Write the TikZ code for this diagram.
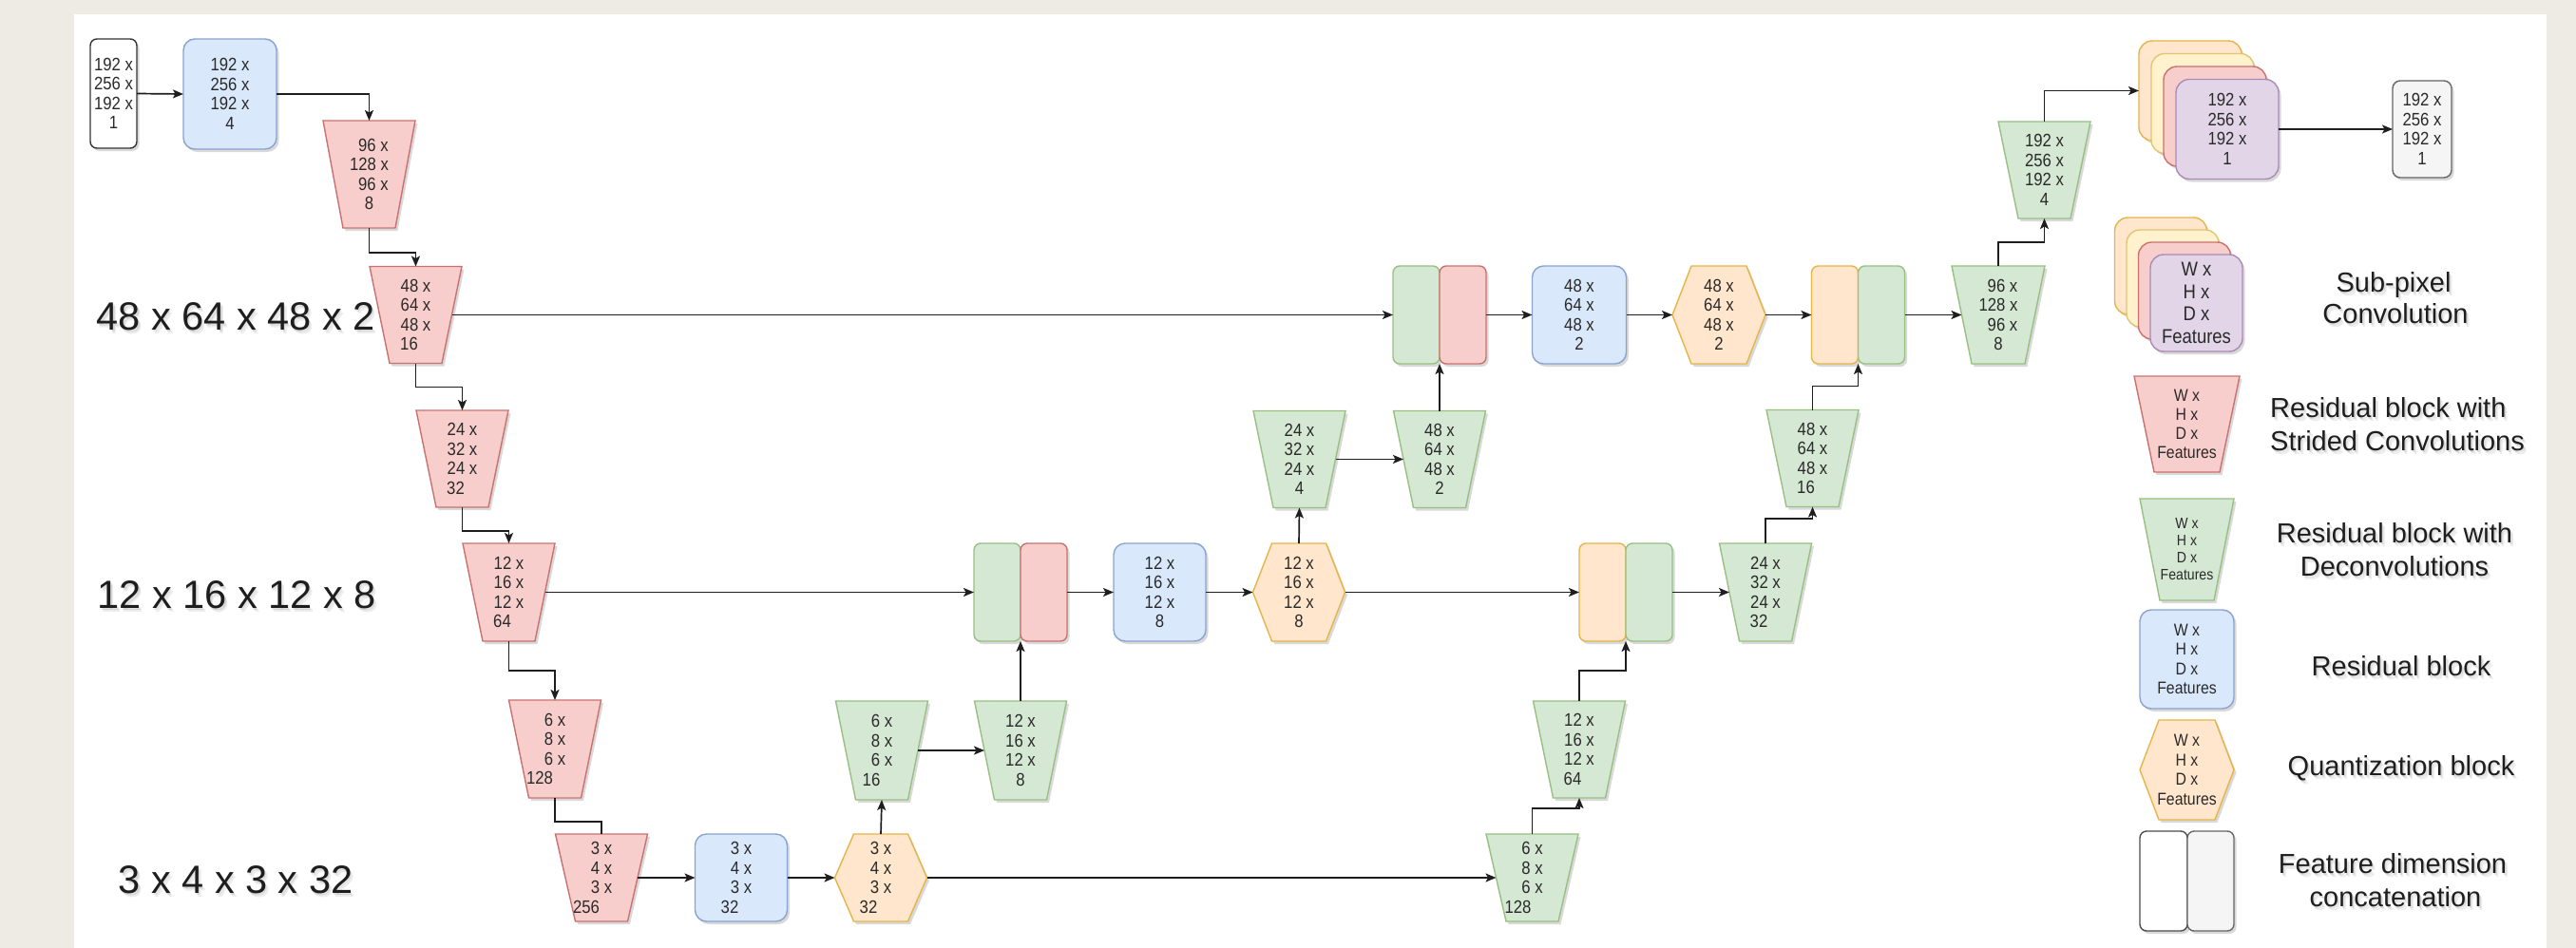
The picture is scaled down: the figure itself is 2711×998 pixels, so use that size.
\documentclass[tikz,border=0pt]{standalone}
\usepackage{fontspec}
\setmainfont{Liberation Sans}
\newfontfamily\blockfont[FakeStretch=0.88]{Liberation Sans}
\usetikzlibrary{arrows.meta,shadows,calc}

% ---------- colours ----------
\definecolor{pagebg}{HTML}{EEEBE4}
\definecolor{redF}{HTML}{F8CECC}\definecolor{redD}{HTML}{B85450}
\definecolor{grnF}{HTML}{D5E8D4}\definecolor{grnD}{HTML}{82B366}
\definecolor{bluF}{HTML}{DAE8FC}\definecolor{bluD}{HTML}{6C8EBF}
\definecolor{orgF}{HTML}{FFE6CC}\definecolor{orgD}{HTML}{D79B00}
\definecolor{ylwF}{HTML}{FFF2CC}\definecolor{ylwD}{HTML}{D6B656}
\definecolor{purF}{HTML}{E1D5E7}\definecolor{purD}{HTML}{9673A6}
\definecolor{gryF}{HTML}{F5F5F5}\definecolor{gryD}{HTML}{666666}
\definecolor{ink}{HTML}{1E1E1E}
\definecolor{txt}{HTML}{2A2A2A}
\colorlet{redS}{redD!75!redF}
\colorlet{grnS}{grnD!75!grnF}
\colorlet{bluS}{bluD!75!bluF}
\colorlet{orgS}{orgD!65!orgF}
\colorlet{ylwS}{ylwD!75!ylwF}
\colorlet{purS}{purD!75!purF}

% ---------- block shapes ----------
\newdimen\shpL \newdimen\shpR \newdimen\shpT \newdimen\shpB
\newdimen\shpM \newdimen\shpLi \newdimen\shpRi
\makeatletter
% hexagon with flat top and bottom, pointed left and right
\pgfdeclareshape{hexblock}{%
  \inheritsavedanchors[from=rectangle]%
  \inheritanchorborder[from=rectangle]%
  \inheritanchor[from=rectangle]{center}%
  \inheritanchor[from=rectangle]{north}%
  \inheritanchor[from=rectangle]{south}%
  \inheritanchor[from=rectangle]{east}%
  \inheritanchor[from=rectangle]{west}%
  \backgroundpath{%
    \southwest \shpL=\pgf@x \shpB=\pgf@y
    \northeast \shpR=\pgf@x \shpT=\pgf@y
    \shpM=.5\shpB \advance\shpM by .5\shpT
    \shpLi=\shpL \advance\shpLi by 20pt
    \shpRi=\shpR \advance\shpRi by -20pt
    \pgfpathmoveto{\pgfqpoint{\shpL}{\shpM}}%
    \pgfpathlineto{\pgfqpoint{\shpLi}{\shpT}}%
    \pgfpathlineto{\pgfqpoint{\shpRi}{\shpT}}%
    \pgfpathlineto{\pgfqpoint{\shpR}{\shpM}}%
    \pgfpathlineto{\pgfqpoint{\shpRi}{\shpB}}%
    \pgfpathlineto{\pgfqpoint{\shpLi}{\shpB}}%
    \pgfpathclose
  }%
}
% trapezoid, wide at the top; east/west sit on the slanted sides
\pgfdeclareshape{trapblock}{%
  \inheritsavedanchors[from=rectangle]%
  \inheritanchorborder[from=rectangle]%
  \inheritanchor[from=rectangle]{center}%
  \inheritanchor[from=rectangle]{north}%
  \inheritanchor[from=rectangle]{south}%
  \anchor{east}{\southwest \pgf@ya=\pgf@y \northeast
    \advance\pgf@x by -10.5pt \pgf@y=.5\pgf@y \advance\pgf@y by .5\pgf@ya}%
  \anchor{west}{\northeast \pgf@ya=\pgf@y \southwest
    \advance\pgf@x by 10.5pt \pgf@y=.5\pgf@y \advance\pgf@y by .5\pgf@ya}%
  \backgroundpath{%
    \southwest \shpL=\pgf@x \shpB=\pgf@y
    \northeast \shpR=\pgf@x \shpT=\pgf@y
    \shpLi=\shpL \advance\shpLi by 21pt
    \shpRi=\shpR \advance\shpRi by -21pt
    \pgfpathmoveto{\pgfqpoint{\shpL}{\shpT}}%
    \pgfpathlineto{\pgfqpoint{\shpR}{\shpT}}%
    \pgfpathlineto{\pgfqpoint{\shpRi}{\shpB}}%
    \pgfpathlineto{\pgfqpoint{\shpLi}{\shpB}}%
    \pgfpathclose
  }%
}
\makeatother

% ---------- styles ----------
\tikzset{
  blk/.style={line width=1.4pt, inner sep=0pt, outer sep=0pt, text=txt, align=center,
    font=\blockfont\fontsize{19}{20.5}\selectfont,
    drop shadow={shadow xshift=2.5pt, shadow yshift=-3pt, opacity=.15, fill=black}},
  rtrap/.style={blk, shape=trapblock, fill=redF, draw=redS, minimum width=97pt, minimum height=102pt},
  gtrap/.style={blk, shape=trapblock, fill=grnF, draw=grnS, minimum width=97pt, minimum height=102pt},
  resbox/.style={blk, rectangle, rounded corners=12pt, fill=bluF, draw=bluS, minimum width=97pt, minimum height=103pt},
  quant/.style={blk, shape=hexblock, fill=orgF, draw=orgS, minimum width=97pt, minimum height=103pt},
  half/.style={blk, rectangle, rounded corners=7pt, minimum width=49pt, minimum height=103pt},
  hg/.style={half, fill=grnF, draw=grnS},
  hr/.style={half, fill=redF, draw=redS},
  ho/.style={half, fill=orgF, draw=orgS},
  layer/.style={blk, rectangle, rounded corners=14pt, minimum width=108pt, minimum height=105pt},
  conn/.style={draw=ink, line width=1.7pt, -{Stealth[length=11pt,width=9pt,inset=2.5pt]}},
  plainline/.style={draw=ink, line width=1.7pt},
  legtxt/.style={inner sep=0pt, text=ink, font=\fontsize{29}{33}\selectfont},
  sidetxt/.style={inner sep=0pt, text=ink, font=\fontsize{41.5}{46}\selectfont},
}
% text with a soft shadow below it
\newcommand\shtext[5]{%
  \node[#1, text=black, text opacity=.10, anchor=#3] (#2-a) at ($(#4)+(1.5,2.5)$) {#5};
  \node[#1, text=black, text opacity=.07, anchor=#3] (#2-b) at ($(#4)+(3,4.5)$) {#5};
  \node[#1, anchor=#3] (#2) at (#4) {#5};}

\begin{document}
\begin{tikzpicture}[x=1pt,y=-1pt]
\useasboundingbox (0,0) rectangle (2711,998);
\fill[pagebg] (0,0) rectangle (2711,998);
\fill[white] (78,15) rectangle (2680,998);

% ---------- side labels ----------
\shtext{sidetxt}{lv1}{base}{248,347}{48 x 64 x 48 x 2}
\shtext{sidetxt}{lv2}{base}{249,640}{12 x 16 x 12 x 8}
\shtext{sidetxt}{lv3}{base}{248,940}{3 x 4 x 3 x 32}

% ---------- encoder ----------
\node[blk, rectangle, rounded corners=7pt, fill=white, draw=black!80, minimum width=49pt, minimum height=115pt]
  (in) at (119.5,98.5) {192 x\\256 x\\192 x\\1};
\node[resbox, minimum width=98pt, minimum height=116pt] (b1) at (242,99) {192 x\\256 x\\192 x\\4};
\node[rtrap, minimum height=113pt] (r1) at (388.5,183.5) {\hspace*{9pt}96 x\\128 x\\\hspace*{9pt}96 x\\8};
\node[rtrap] (r2) at (437.5,331.5) {48 x\\64 x\\48 x\\\hspace*{-14pt}16};
\node[rtrap] (r3) at (486.5,483) {24 x\\32 x\\24 x\\\hspace*{-14pt}32};
\node[rtrap, minimum height=103pt] (r4) at (535.5,623.5) {12 x\\16 x\\12 x\\\hspace*{-14pt}64};
\node[rtrap, minimum height=103pt] (r5) at (584,788.5) {6 x\\8 x\\6 x\\\hspace*{-32pt}128};
\node[rtrap, minimum height=92pt] (r6) at (633,924) {3 x\\4 x\\3 x\\\hspace*{-32pt}256};

% ---------- bottleneck ----------
\node[resbox, minimum height=92pt] (bb) at (780,924) {3 x\\4 x\\3 x\\\hspace*{-24pt}32};
\node[quant, minimum height=92pt] (hb) at (927,924) {3 x\\4 x\\3 x\\\hspace*{-26pt}32};

% ---------- 12 x 16 x 12 level ----------
\node[gtrap, minimum height=104pt] (g1) at (928,790) {6 x\\8 x\\6 x\\\hspace*{-22pt}16};
\node[gtrap, minimum height=104pt] (g2) at (1074,790) {12 x\\16 x\\12 x\\8};
\node[hg] (cm1a) at (1049.5,623.5) {};
\node[hr] (cm1b) at (1098.5,623.5) {};
\node[resbox] (bm) at (1220.5,623.5) {12 x\\16 x\\12 x\\8};
\node[quant] (hm) at (1367,623.5) {12 x\\16 x\\12 x\\8};

% ---------- 48 x 64 x 48 level ----------
\node[gtrap] (g3) at (1367.5,483.5) {24 x\\32 x\\24 x\\4};
\node[gtrap] (g4) at (1515,483.5) {48 x\\64 x\\48 x\\2};
\node[hg] (ct1a) at (1490.5,331.5) {};
\node[hr] (ct1b) at (1539.5,331.5) {};
\node[resbox, minimum width=99pt] (bt) at (1662,331.5) {48 x\\64 x\\48 x\\2};
\node[quant, minimum width=98pt] (ht) at (1809,331.5) {48 x\\64 x\\48 x\\2};

% ---------- decoder ----------
\node[gtrap, minimum height=92pt] (g7) at (1612.5,924) {6 x\\8 x\\6 x\\\hspace*{-30pt}128};
\node[gtrap] (g8) at (1662,789) {12 x\\16 x\\12 x\\\hspace*{-14pt}64};
\node[ho] (cm2a) at (1686.5,623.5) {};
\node[hg] (cm2b) at (1735.5,623.5) {};
\node[gtrap, minimum height=103pt] (g9) at (1858,623.5) {24 x\\32 x\\24 x\\\hspace*{-14pt}32};
\node[gtrap] (g10) at (1907.5,482.5) {48 x\\64 x\\48 x\\\hspace*{-14pt}16};
\node[ho] (ct2a) at (1931,331.5) {};
\node[hg] (ct2b) at (1980,331.5) {};
\node[gtrap, minimum width=98pt, minimum height=103pt] (g5) at (2103,331.5) {\hspace*{9pt}96 x\\128 x\\\hspace*{9pt}96 x\\8};
\node[gtrap] (g6) at (2151.5,179) {192 x\\256 x\\192 x\\4};

% sub-pixel convolution stack
\node[layer, fill=orgF, draw=orgS] (sk4) at (2305,95.5) {};
\node[layer, fill=ylwF, draw=ylwS] (sk3) at (2318,109) {};
\node[layer, fill=redF, draw=redS] (sk2) at (2331,122.5) {};
\node[layer, fill=purF, draw=purS] (sk1) at (2344,136) {192 x\\256 x\\192 x\\1};
\node[blk, rectangle, rounded corners=8pt, fill=gryF, draw=gryD, minimum width=62pt, minimum height=102pt]
  (out) at (2549,136) {192 x\\256 x\\192 x\\1};

% ---------- connectors ----------
\draw[conn] (in.east) -- (b1.west);
\draw[conn] (b1.east) -| (r1.north);
\draw[conn] (r1.south) -- ++(0,26) -| (r2.north);
\draw[conn] (r2.south) -- ++(0,25) -| (r3.north);
\draw[conn] (r3.south) -- ++(0,25) -| (r4.north);
\draw[conn] (r4.south) -- ++(0,31) -| (r5.north);
\draw[plainline] (r5.south) -- ++(0,25) -| (r6.north);
\draw[conn] (r6.east) -- (bb.west);
\draw[conn] (bb.east) -- (hb.west);
\draw[conn] (hb.north) -- (g1.south);
\draw[conn] (g1.east) -- (g2.west);
\draw[conn] (g2.north) -- (cm1a.south east);
\draw[conn] (r4.east) -- (cm1a.west);
\draw[conn] (cm1b.east) -- (bm.west);
\draw[conn] (bm.east) -- (hm.west);
\draw[conn] (hm.north) -- (g3.south);
\draw[conn] (g3.east) -- (g4.west);
\draw[conn] (g4.north) -- (ct1a.south east);
\draw[conn] (r2.east) -- (ct1a.west);
\draw[conn] (ct1b.east) -- (bt.west);
\draw[conn] (bt.east) -- (ht.west);
\draw[conn] (ht.east) -- (ct2a.west);
\draw[conn] (ct2b.east) -- (g5.west);
\draw[conn] (g5.north) -- ++(0,-25) -| (g6.south);
\draw[conn] (g6.north) |- (sk4.west);
\draw[conn] (sk1.east) -- (out.west);
\draw[conn] (hm.east) -- (cm2a.west);
\draw[conn] (hb.east) -- (g7.west);
\draw[conn] (g7.north) -- ++(0,-27) -| (g8.south);
\draw[conn] (g8.north) -- ++(0,-32) -| (cm2a.south east);
\draw[conn] (cm2b.east) -- (g9.west);
\draw[conn] (g9.north) -- ++(0,-26) -| (g10.south);
\draw[conn] (g10.north) -- ++(0,-25) -| (ct2a.south east);

% ---------- legend ----------
\node[layer, fill=orgF, draw=orgS, minimum width=97pt, minimum height=102pt] (lsk4) at (2274,280) {};
\node[layer, fill=ylwF, draw=ylwS, minimum width=97pt, minimum height=102pt] (lsk3) at (2286.5,293) {};
\node[layer, fill=redF, draw=redS, minimum width=97pt, minimum height=102pt] (lsk2) at (2299,306) {};
\node[layer, fill=purF, draw=purS, minimum width=97pt, minimum height=102pt,
  font=\blockfont\fontsize{21}{23.5}\selectfont] (lsk1) at (2311.5,319) {W x\\H x\\D x\\Features};
\node[rtrap, minimum width=111pt, minimum height=101pt, font=\blockfont\fontsize{18}{20}\selectfont]
  (lrt) at (2301.5,446.5) {W x\\H x\\D x\\Features};
\node[gtrap, minimum width=99pt, minimum height=107pt, font=\blockfont\fontsize{16}{18}\selectfont]
  (lgt) at (2301.5,578.5) {W x\\H x\\D x\\Features};
\node[resbox, minimum width=99pt, minimum height=104pt, font=\blockfont\fontsize{18}{20.5}\selectfont]
  (lbx) at (2301.5,694) {W x\\H x\\D x\\Features};
\node[quant, minimum width=99pt, minimum height=105pt, font=\blockfont\fontsize{18}{20.5}\selectfont]
  (lhx) at (2301.5,810.5) {W x\\H x\\D x\\Features};
\node[half, fill=white, draw=black!70, minimum width=50pt, minimum height=105pt] (lca) at (2277,927.5) {};
\node[half, fill=gryF, draw=gryD, minimum width=49pt, minimum height=105pt] (lcb) at (2326.5,927.5) {};

\shtext{legtxt}{t1a}{base}{2519,307}{Sub-pixel}
\shtext{legtxt}{t1b}{base}{2521,340}{Convolution}
\shtext{legtxt}{t2a}{base west}{2389,439}{Residual block with}
\shtext{legtxt}{t2b}{base west}{2389,474}{Strided Convolutions}
\shtext{legtxt}{t3a}{base}{2520,571}{Residual block with}
\shtext{legtxt}{t3b}{base}{2520,606}{Deconvolutions}
\shtext{legtxt}{t4}{base}{2527,711}{Residual block}
\shtext{legtxt}{t5}{base}{2527,816}{Quantization block}
\shtext{legtxt}{t6a}{base}{2518,919}{Feature dimension}
\shtext{legtxt}{t6b}{base}{2521,954}{concatenation}
\end{tikzpicture}
\end{document}
